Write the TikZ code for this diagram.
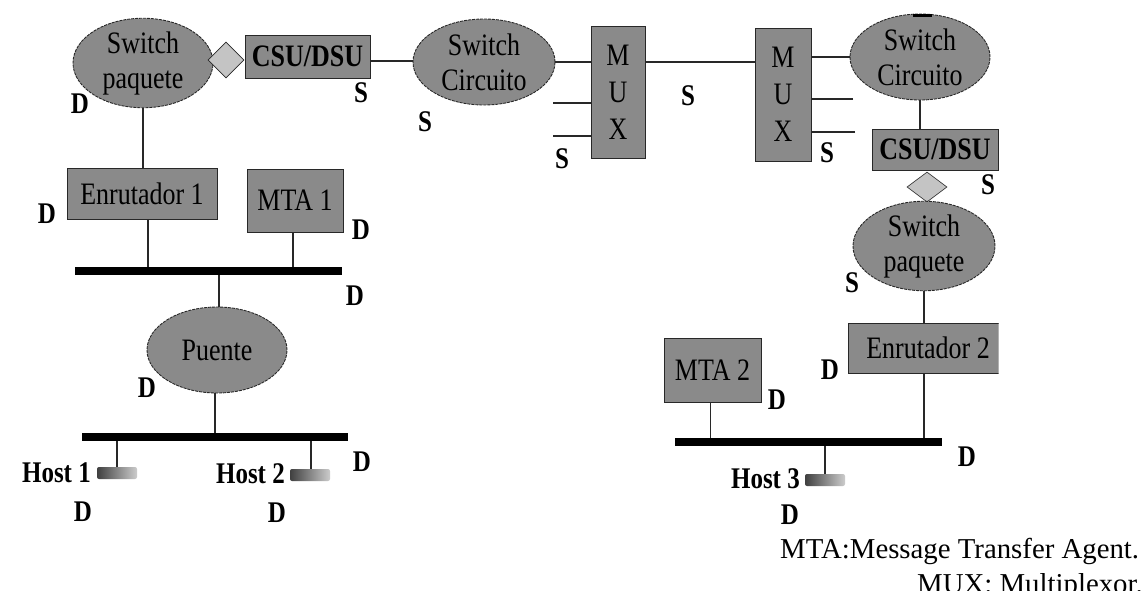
\documentclass[tikz,border=0pt]{standalone}
\usepackage{fontspec}
\setmainfont{Liberation Serif}
\usetikzlibrary{shapes.geometric}
\definecolor{gfill}{RGB}{138,138,138}
\definecolor{dfill}{RGB}{196,196,196}
\definecolor{edge}{RGB}{40,40,40}
\newcommand\vst[1]{\scalebox{1}[1.2]{#1}}
\begin{document}
\begin{tikzpicture}[x=1pt,y=-1pt,
  ell/.style={ellipse,draw=edge,fill=gfill,line width=0.9pt,dash pattern=on 3pt off 1pt,minimum width=140pt,minimum height=86pt,inner sep=0pt,align=center,font=\fontsize{26}{35}\selectfont},
  box/.style={rectangle,draw=edge,fill=gfill,line width=1pt,inner sep=0pt,align=center,font=\fontsize{26}{37}\selectfont},
  diam/.style={diamond,draw=edge,fill=dfill,line width=0.6pt,inner sep=0pt},
  bus/.style={rectangle,fill=black,inner sep=0pt,minimum height=8pt},
  conn/.style={draw=edge,line width=1.2pt},
  lab/.style={font=\fontsize{25}{25}\selectfont\bfseries,inner sep=0pt},
  hostlab/.style={font=\fontsize{25}{25}\selectfont\bfseries,inner sep=0pt,anchor=east},
  hosticon/.style={rectangle,rounded corners=2pt,minimum width=40pt,minimum height=12pt,inner sep=0pt,left color=black!75,right color=black!20},
  leg/.style={font=\fontsize{28.8}{28.8}\selectfont,inner sep=0pt,anchor=base west}
]
\clip (0,0) rectangle (1146,590);
\fill[white] (0,0) rectangle (1146,590);

% top left
\node[ell] (sp1) at (143,63) {\vst{Switch}\\\vst{paquete}};
\node[diam,minimum width=36pt,minimum height=36pt] (dm1) at (226,60) {};
\node[box,minimum width=125pt,minimum height=43pt] (csu1) at (307.5,56.5) {\vst{\bfseries CSU/DSU}};
\node[ell,minimum width=142pt] (sc1) at (484,62) {\vst{Switch}\\\vst{Circuito}};
\node[box,minimum width=54pt,minimum height=132pt] (mux1) at (618,92) {\vst{M}\\\vst{U}\\\vst{X}};
\node[box,minimum width=56pt,minimum height=133pt] (mux2) at (783,94.5) {\vst{M}\\\vst{U}\\\vst{X}};
\node[ell] (sc2) at (920,57) {\vst{Switch}\\\vst{Circuito}};
\draw[line width=3pt] (913,15) -- (932,15);
\node[box,minimum width=126pt,minimum height=41pt] (csu2) at (935,149.5) {\vst{\bfseries CSU/DSU}};
\node[diam,minimum width=40pt,minimum height=30pt] (dm2) at (927,187) {};
\node[ell,minimum width=142pt,minimum height=88pt] (sp2) at (924,246) {\vst{Switch}\\\vst{paquete}};

\coordinate (m1a) at (553,103);
\coordinate (m1b) at (553,136);
\coordinate (m2a) at (853,99);
\coordinate (m2b) at (855,132);

\draw[conn] (csu1.east |- 0,61) -- (sc1.west |- 0,61);
\draw[conn] (sc1.east) -- (sc1.east -| mux1.west);
\draw[conn] (m1a) -- (m1a -| mux1.west);
\draw[conn] (m1b) -- (m1b -| mux1.west);
\draw[conn] (mux1.east |- sc1.east) -- (mux2.west |- sc1.east);
\draw[conn] (sc2.west) -- (sc2.west -| mux2.east);
\draw[conn] (m2a) -- (m2a -| mux2.east);
\draw[conn] (m2b) -- (m2b -| mux2.east);
\draw[conn] (sc2.south) -- (sc2.south |- csu2.north);

% left network
\node[box,minimum width=150pt,minimum height=51pt] (enr1) at (142,193.5) {\vst{Enrutador 1}};
\node[box,minimum width=96pt,minimum height=63pt] (mta1) at (295,200.5) {\vst{MTA 1}};
\node[bus,minimum width=267pt] (bus1) at (208.5,271) {};
\node[ell,minimum width=140pt,minimum height=86pt] (pue) at (217,350) {\vst{Puente}};
\node[bus,minimum width=266pt] (bus3) at (215,437) {};
\node[hosticon] (h1) at (117,473) {};
\node[hosticon] (h2) at (310,475) {};
\node[hostlab] (h1t) at (91,473) {\vst{Host 1}};
\node[hostlab] (h2t) at (285,474) {\vst{Host 2}};

\draw[conn] (sp1.south) -- (sp1.south |- enr1.north);
\draw[conn] ([xshift=6pt]enr1.south) -- ([xshift=6pt]enr1.south |- bus1.north);
\draw[conn] ([xshift=-2pt]mta1.south) -- ([xshift=-2pt]mta1.south |- bus1.north);
\draw[conn] ([xshift=2pt]pue.north) -- ([xshift=2pt]pue.north |- bus1.south);
\draw[conn] ([xshift=-2pt]pue.south) -- ([xshift=-2pt]pue.south |- bus3.north);
\draw[conn] (h1.north) -- (h1.north |- bus3.south);
\draw[conn] ([xshift=1pt]h2.north) -- ([xshift=1pt]h2.north |- bus3.south);

% right network
\begin{scope}
\clip (0,0) rectangle (998.5,590);
\node[box,minimum width=160pt,minimum height=50pt] (enr2) at (928,348) {\vst{Enrutador 2}};
\end{scope}
\node[box,minimum width=97pt,minimum height=64pt] (mta2) at (712.5,370) {\vst{MTA 2}};
\node[bus,minimum width=267pt] (bus2) at (808.5,442) {};
\node[hosticon] (h3) at (825,480) {};
\node[hostlab] (h3t) at (800,479) {\vst{Host 3}};

\draw[conn] (sp2.south) -- (sp2.south |- enr2.north);
\draw[conn] (sp2.south |- enr2.south) -- (sp2.south |- bus2.north);
\draw[conn] ([xshift=-2pt]mta2.south) -- ([xshift=-2pt]mta2.south |- bus2.north);
\draw[conn] (h3.north) -- (h3.north |- bus2.south);

% S / D labels
\node[lab] (s1) at (361,93) {\vst{S}};
\node[lab] (s2) at (425,122) {\vst{S}};
\node[lab] (s3) at (562,159) {\vst{S}};
\node[lab] (s4) at (688,96) {\vst{S}};
\node[lab] (s5) at (827,153) {\vst{S}};
\node[lab] (s6) at (988,185) {\vst{S}};
\node[lab] (s7) at (852,283) {\vst{S}};
\node[lab] (d1) at (80,104) {\vst{D}};
\node[lab] (d2) at (47,214) {\vst{D}};
\node[lab] (d3) at (361,230) {\vst{D}};
\node[lab] (d4) at (355,296) {\vst{D}};
\node[lab] (d5) at (147,388) {\vst{D}};
\node[lab] (d6) at (362,462) {\vst{D}};
\node[lab] (d7) at (83,512) {\vst{D}};
\node[lab] (d8) at (277,513) {\vst{D}};
\node[lab] (d9) at (830,370) {\vst{D}};
\node[lab] (d10) at (777,400) {\vst{D}};
\node[lab] (d11) at (967,457) {\vst{D}};
\node[lab] (d12) at (790,515) {\vst{D}};

% legend
\node[leg] (leg1) at (780,558) {MTA:Message Transfer Agent.};
\node[leg] (leg2) at (917,593) {MUX: Multiplexor.};
\end{tikzpicture}
\end{document}
